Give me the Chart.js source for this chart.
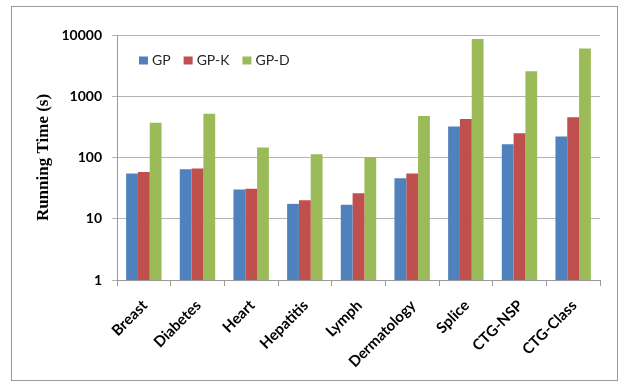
<!DOCTYPE html>
<html>
<head>
<meta charset="utf-8">
<script src="https://cdn.jsdelivr.net/npm/chart.js@4/dist/chart.umd.min.js"></script>
<style>
  html, body { margin: 0; padding: 0; background: #fff; }
  #wrap { width: 619px; height: 381px; }
</style>
</head>
<body>
<div id="wrap"><canvas id="c" width="619" height="381"></canvas></div>
<script>
// Datasets and their running times in seconds
const categories = ['Breast', 'Diabetes', 'Heart', 'Hepatitis', 'Lymph', 'Dermatology', 'Splice', 'CTG-NSP', 'CTG-Class'];
const gpTimes  = [55, 64, 30, 17.5, 17, 46, 320, 165, 220];
const gpkTimes = [58, 66, 31, 20, 26, 55, 427, 250, 455];
const gpdTimes = [370, 516, 145, 113, 102, 478, 8570, 2570, 6030];
const yTicks = [1, 10, 100, 1000, 10000];

const seriesNames = ['GP', 'GP-K', 'GP-D'];
const seriesColors = ['#4F81BD', '#C0504D', '#9BBB59'];

// Legend drawn inside the plot, top-left
const insideLegend = {
  id: 'insideLegend',
  afterDraw(chart) {
    const ctx = chart.ctx;
    ctx.save();
    ctx.font = '14px Lato';
    ctx.textBaseline = 'middle';
    ctx.textAlign = 'left';
    let x = chart.chartArea.left + 22;
    const y = 60.5;
    chart.data.datasets.forEach(ds => {
      ctx.fillStyle = ds.backgroundColor;
      ctx.fillRect(x, y - 4, 9, 8);
      x += 13;
      ctx.fillStyle = '#262626';
      ctx.fillText(ds.label, x, y);
      x += ctx.measureText(ds.label).width + 13;
    });
    ctx.restore();
  }
};

// Category names on a 45-degree baseline ending at each tick
const slantedLabels = {
  id: 'slantedLabels',
  afterDraw(chart) {
    const ctx = chart.ctx;
    const xs = chart.scales.x;
    ctx.save();
    ctx.font = 'bold 15px Lato';
    ctx.fillStyle = '#000';
    ctx.textAlign = 'right';
    ctx.textBaseline = 'middle';
    chart.data.labels.forEach((lab, i) => {
      const x = xs.getPixelForTick(i);
      ctx.save();
      ctx.translate(x + 1, xs.top + 23);
      ctx.rotate(-Math.PI / 4);
      ctx.fillText(lab, 0, 0);
      ctx.restore();
    });
    ctx.restore();
  }
};

// White background and thin outer frame
const frame = {
  id: 'frame',
  beforeDraw(chart) {
    const ctx = chart.ctx;
    ctx.save();
    ctx.fillStyle = '#fff';
    ctx.fillRect(0, 0, chart.width, chart.height);
    ctx.restore();
  },
  afterDraw(chart) {
    const ctx = chart.ctx;
    ctx.save();
    ctx.strokeStyle = '#9a9a9a';
    ctx.lineWidth = 1;
    ctx.strokeRect(11.5, 6.5, 606, 374);
    ctx.restore();
  }
};

new Chart(document.getElementById('c'), {
  type: 'bar',
  data: {
    labels: categories,
    datasets: [gpTimes, gpkTimes, gpdTimes].map((vals, i) => ({
      label: seriesNames[i],
      data: vals,
      backgroundColor: seriesColors[i],
      borderWidth: 0,
      categoryPercentage: 0.66,
      barPercentage: 1.0
    }))
  },
  options: {
    responsive: false,
    animation: false,
    devicePixelRatio: 1,
    layout: { padding: { left: 0, right: 19, top: 35, bottom: 0 } },
    plugins: {
      legend: { display: false },
      tooltip: { enabled: false }
    },
    scales: {
      x: {
        grid: {
          offset: true,
          drawOnChartArea: false,
          drawTicks: true,
          tickLength: 6,
          color: '#9a9a9a'
        },
        border: { color: '#9a9a9a' },
        ticks: { display: false, autoSkip: false },
        afterFit(scale) { scale.height = 101; }
      },
      y: {
        type: 'logarithmic',
        min: 1,
        max: 10000,
        afterBuildTicks(scale) {
          scale.ticks = yTicks.map(v => ({ value: v }));
        },
        ticks: {
          padding: 10,
          color: '#000',
          font: { family: 'Lato', size: 14, weight: 'bold' },
          callback: (v) => String(v)
        },
        grid: {
          color: '#b4b4b4',
          tickLength: 5,
          drawTicks: true
        },
        border: { color: '#9a9a9a' },
        title: {
          display: true,
          text: 'Running Time (s)',
          color: '#000',
          font: { family: 'Liberation Serif', size: 17, weight: 'bold' },
          padding: { top: 33, bottom: 0 }
        },
        afterFit(scale) { scale.width = 117; }
      }
    }
  },
  plugins: [frame, insideLegend, slantedLabels]
});
</script>
</body>
</html>
